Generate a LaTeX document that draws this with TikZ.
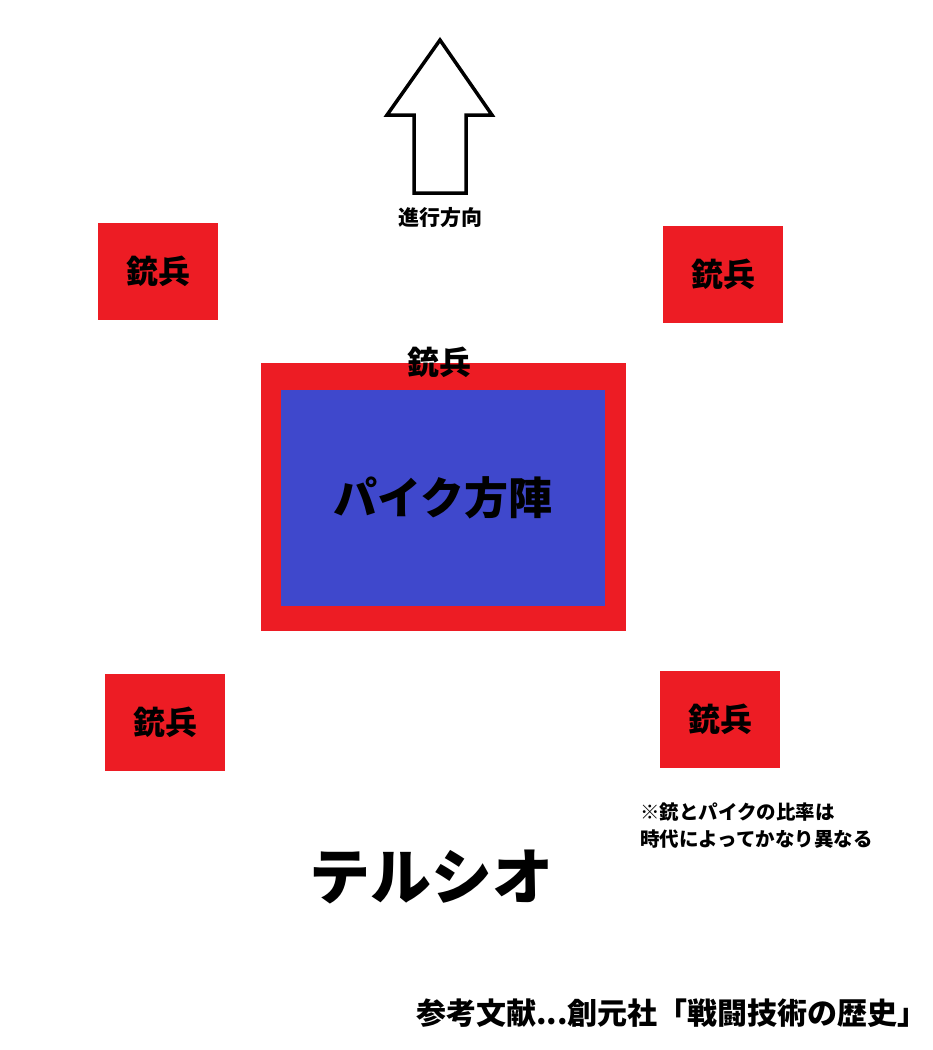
\documentclass[tikz,border=0pt]{standalone}
\usepackage{fontspec}
\setmainfont{Noto Sans CJK JP}
\definecolor{paintred}{HTML}{ED1C24}
\definecolor{paintblue}{HTML}{3F48CC}

\tikzset{
    jyuhei/.style={
        fill=paintred, inner sep=0pt,
        minimum width=120pt, minimum height=97pt,
        font=\fontsize{32}{36}\selectfont\bfseries
    },
    heading/.style={font=\fontsize{#1}{#1}\selectfont\bfseries, inner sep=0pt}
}

\begin{document}
\begin{tikzpicture}[x=1pt,y=-1pt]
                      \useasboundingbox (0,0) rectangle (933,1050);
                      % direction arrow
                      \draw[line width=3.5pt] (440,40) -- (492,115) -- (466,115) -- (466,193)
                            -- (414,193) -- (414,115) -- (387,115) -- cycle;
                      \node[heading=21] (dir) at (440,218) {進行方向};

                      % pike square with shot round it
                      \node[fill=paintred, minimum width=365pt, minimum height=268pt] (square) at (443.5,497) {};
                      \node[fill=paintblue, minimum width=324pt, minimum height=216pt, heading=44] (pike) at (443,497.5) {パイク方陣};
                      \node[heading=32] (front) at (439,362) {銃兵};

                      \node[jyuhei] (tl) at (158,271.5) {銃兵};
                      \node[jyuhei] (tr) at (723,274.5) {銃兵};
                      \node[jyuhei] (bl) at (165,722.5) {銃兵};
                      \node[jyuhei] (br) at (720,719.5) {銃兵};

                      \node[heading=61] (tercio) at (431,877) {テルシオ};
                      \node[font=\fontsize{19.5}{27}\selectfont\bfseries, align=left, anchor=west, inner sep=0pt] (note) at (640,825.5)
                            {※銃とパイクの比率は\\時代によってかなり異なる};
                      \node[heading=30, anchor=east] (ref) at (928,1013) {参考文献...創元社「戦闘技術の歴史」};
                  \end{tikzpicture}
\end{document}
